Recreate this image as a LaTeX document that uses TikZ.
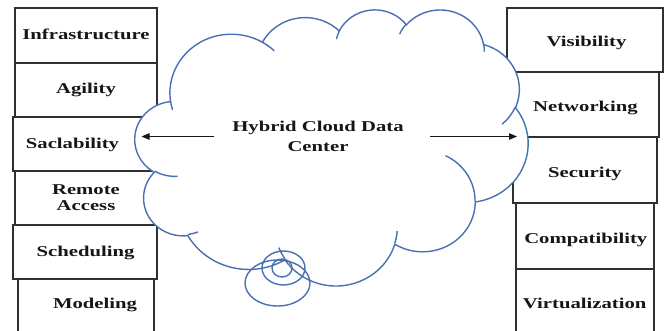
\documentclass[tikz,border=0pt]{standalone}
\usepackage{fontspec}
\setmainfont{Liberation Serif}[FakeStretch=1.38]
\usetikzlibrary{arrows.meta}
\definecolor{cloudblue}{RGB}{72,112,178}
\definecolor{boxgray}{RGB}{48,48,48}
\definecolor{inkblack}{RGB}{22,22,22}
\begin{document}
\begin{tikzpicture}[x=1pt,y=-1pt,
  boxline/.style={draw=boxgray, line width=1.2pt},
  cloudline/.style={draw=cloudblue, line width=1.4pt},
  lbl/.style={font=\fontsize{15}{17}\selectfont\bfseries, text=inkblack,
    inner sep=0pt, text height=9.9pt, text depth=0pt},
  lbltwo/.style={font=\bfseries, text=inkblack, inner sep=0pt, align=center, anchor=north},
  arr/.style={draw=inkblack, line width=0.9pt, -{Triangle[length=8pt,width=6.5pt]}}]
\useasboundingbox (0,0) rectangle (664,331);

% left column of boxes
\draw[boxline] (15,8) rectangle (157,63);
\draw[boxline] (15,63) rectangle (157,117);
\draw[boxline] (13,117) rectangle (157,171);
\draw[boxline] (15,171) rectangle (157,225);
\draw[boxline] (13,225) rectangle (157,279);
\draw[boxline] (18,345) -- (18,279) -- (154,279) -- (154,345);

% right column of boxes
\draw[boxline] (507,8) rectangle (663,72);
\draw[boxline] (515,72) rectangle (659,137);
\draw[boxline] (513,137) rectangle (657,203);
\draw[boxline] (516,203) rectangle (654,269);
\draw[boxline] (516,345) -- (516,269) -- (654,269) -- (654,345);

% cloud outline: chain of elliptic arcs on a 432 x 432 frame
\begin{scope}[shift={(135pt,-9pt)}, x=0.909722pt, y=-0.638889pt]
\draw[cloudline, fill=white] (39.00,143.70)
  arc[start angle=-187.745, end angle=-59.62,  x radius=67.53, y radius=91.90]
  arc[start angle=-152.02,  end angle=-45.45,  x radius=53.33, y radius=72.67]
  arc[start angle=-153.49,  end angle=-37.33,  x radius=43.65, y radius=59.45]
  arc[start angle=-139.72,  end angle=-10.21,  x radius=48.57, y radius=65.95]
  arc[start angle=-74.77,   end angle=23.21,   x radius=53.33, y radius=72.73]
  arc[start angle=-37.53,   end angle=81.86,   x radius=67.75, y radius=92.20]
  arc[start angle=0.46,     end angle=121.98,  x radius=57.85, y radius=78.67]
  arc[start angle=16.84,    end angle=146.24,  x radius=67.52, y radius=92.15]
  arc[start angle=58.99,    end angle=150.18,  x radius=77.20, y radius=105.43]
  arc[start angle=83.31,    end angle=223.11,  x radius=43.60, y radius=59.18]
  arc[start angle=120.36,   end angle=264.11,  x radius=43.45, y radius=59.45]
  -- cycle;
% inner strokes of the cloud
\draw[cloudline]
  (46.93,261.77)  arc[start angle=85.55,   end angle=120.36,  x radius=43.45, y radius=59.45]
  (69.28,348.99)  arc[start angle=68.24,   end angle=83.31,   x radius=43.60, y radius=59.18]
  (164.78,390.90) arc[start angle=146.24,  end angle=158.48,  x radius=67.52, y radius=92.15]
  (288.27,347.51) arc[start angle=4.74,    end angle=16.84,   x radius=67.52, y radius=92.15]
  (341.29,229.54) arc[start angle=-64.03,  end angle=0.46,    x radius=57.85, y radius=78.67]
  (417.98,153.54) arc[start angle=23.21,   end angle=49.64,   x radius=53.33, y radius=72.73]
  (383.24,54.26)  arc[start angle=-10.21,  end angle=0.82,    x radius=48.57, y radius=65.95]
  (290.78,39.52)  arc[start angle=-156.28, end angle=-139.72, x radius=48.57, y radius=65.95]
  (221.41,47.20)  arc[start angle=-167.73, end angle=-153.49, x radius=43.65, y radius=59.45]
  (140.00,51.92)  arc[start angle=-59.62,  end angle=-45.73,  x radius=67.53, y radius=91.90]
  (41.27,157.89)  arc[start angle=163.19,  end angle=172.26,  x radius=67.53, y radius=91.90];
\end{scope}

% thought bubbles under the cloud
\draw[cloudline] (277.5,283) ellipse[x radius=32.5, y radius=23];
\draw[cloudline] (283.5,268) ellipse[x radius=21.5, y radius=17];
\draw[cloudline] (282,268) ellipse[x radius=10, y radius=9];

% centre title
\node[lbltwo, font=\fontsize{15}{19.5}\selectfont\bfseries] (hub) at (318,121)
  {Hybrid Cloud Data\\Center};

% arrows out of the cloud
\coordinate (lstart) at (214,136.5);
\coordinate (ltip) at (141.5,136.5);
\coordinate (rstart) at (430,136.5);
\coordinate (rtip) at (517,136.5);
\draw[arr] (lstart) -- (ltip);
\draw[arr] (rstart) -- (rtip);

% left labels
\node[lbl] (infra) at (86,34.4) {Infrastructure};
\node[lbl] (agil) at (86,88.4) {Agility};
\node[lbl] (scal) at (72.5,143.3) {Saclability};
\node[lbltwo, font=\fontsize{15}{16.7}\selectfont\bfseries] (remote) at (86,184.1) {Remote\\Access};
\node[lbl] (sched) at (85.5,252) {Scheduling};
\node[lbl] (model) at (95,303.7) {Modeling};

% right labels
\node[lbl] (visib) at (586.5,41.3) {Visibility};
\node[lbl] (netw) at (585.5,106.7) {Networking};
\node[lbl] (secur) at (585,173) {Security};
\node[lbl] (compat) at (585.8,238.3) {Compatibility};
\node[lbl] (virt) at (584.7,303.3) {Virtualization};
\end{tikzpicture}
\end{document}
